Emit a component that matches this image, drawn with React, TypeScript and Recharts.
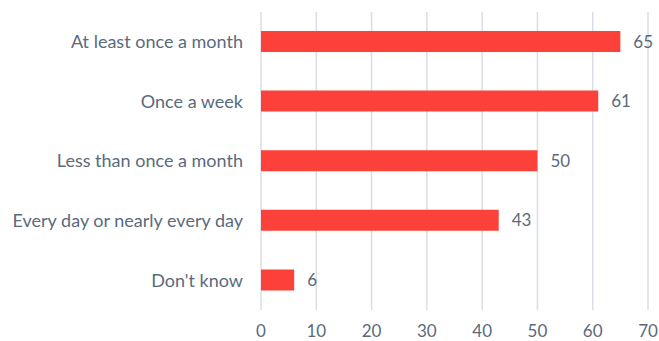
import React from "react";
import { BarChart, Bar, XAxis, YAxis, CartesianGrid, LabelList } from "recharts";

const categories = [
  "At least once a month",
  "Once a week",
  "Less than once a month",
  "Every day or nearly every day",
  "Don't know",
];
const values = [65, 61, 50, 43, 6];
const xTicks = [0, 10, 20, 30, 40, 50, 60, 70];

const data = categories.map((name, i) => ({ name, value: values[i] }));

const TEXT = "#5a6a7c";
const FONT = "Lato, 'Open Sans', sans-serif";

export default function App() {
  return (
    <div style={{ position: "absolute", left: 0, top: 0, background: "#fff" }}>
      <BarChart
        width={659}
        height={341}
        data={data}
        layout="vertical"
        margin={{ top: 12, right: 11, bottom: 0, left: 0 }}
        barCategoryGap={19}
      >
        <CartesianGrid horizontal={false} stroke="#d9dee5" strokeWidth={1.5} />
        <XAxis
          type="number"
          domain={[0, 70]}
          ticks={xTicks}
          axisLine={false}
          tickLine={false}
          tickSize={0}
          tickMargin={15}
          height={31}
          tick={{ fill: TEXT, fontSize: 17, fontFamily: FONT }}
        />
        <YAxis
          type="category"
          dataKey="name"
          width={261}
          axisLine={false}
          tickLine={false}
          tickSize={0}
          tickMargin={18}
          tick={{ fill: TEXT, fontSize: 18, fontFamily: FONT }}
        />
        <Bar dataKey="value" fill="#fb4139" barSize={21} isAnimationActive={false}>
          <LabelList
            dataKey="value"
            position="right"
            offset={13}
            fill={TEXT}
            fontSize={17}
            fontFamily={FONT}
          />
        </Bar>
      </BarChart>
    </div>
  );
}
